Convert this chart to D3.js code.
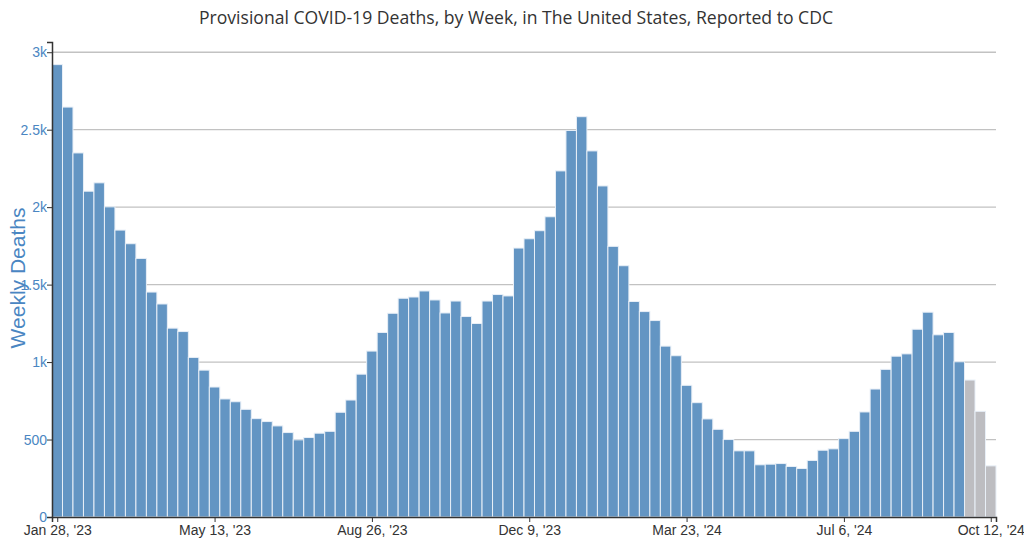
<!DOCTYPE html>
<html>
<head>
<meta charset="utf-8">
<script src="https://cdn.jsdelivr.net/npm/d3@7"></script>
<style>
  html, body { margin: 0; padding: 0; background: #fff; }
  svg { display: block; }
</style>
</head>
<body>
<svg id="chart" width="1024" height="541"></svg>
<script>
// ---- Data ----
const firstWeek = "2023-01-28";
const lastWeek = "2024-10-12";
const weeklyDeaths = [
  2920, 2646, 2350, 2103, 2157, 2002, 1852, 1764, 1669, 1452,
  1375, 1219, 1197, 1030, 948, 839, 762, 744, 695, 635,
  616, 588, 545, 498, 513, 541, 553, 676, 755, 922,
  1071, 1191, 1315, 1412, 1420, 1459, 1401, 1317, 1394, 1294,
  1249, 1394, 1436, 1427, 1736, 1796, 1848, 1938, 2234, 2495,
  2584, 2363, 2137, 1747, 1622, 1391, 1326, 1268, 1103, 1041,
  850, 738, 633, 566, 500, 427, 427, 337, 341, 345,
  326, 313, 365, 431, 440, 506, 553, 678, 826, 953,
  1038, 1053, 1212, 1322, 1176, 1191, 1002, 884, 682, 330
];
const provisionalCount = 3; // last weeks shown in grey (incomplete)
const yTickValues = [0, 500, 1000, 1500, 2000, 2500, 3000];
const yTickLabels = ["0", "500", "1k", "1.5k", "2k", "2.5k", "3k"];
const titleText = "Provisional COVID-19 Deaths, by Week, in The United States, Reported to CDC";
const yTitleText = "Weekly Deaths";

// ---- Build ----
const parse = d3.utcParse("%Y-%m-%d");
const startDate = parse(firstWeek), endDate = parse(lastWeek);
const weekDates = weeklyDeaths.map((_, i) => d3.utcDay.offset(startDate, i * 7));
const data = weekDates.map((d, i) => ({ date: d, value: weeklyDeaths[i], prov: i >= weeklyDeaths.length - provisionalCount }));

const svg = d3.select("#chart");
const mLeft = 52, mRight = 996, mTop = 42, mBottom = 517;

const x = d3.scaleUtc()
  .domain([d3.utcHour.offset(startDate, -84), d3.utcHour.offset(endDate, 84)])
  .range([mLeft, mRight]);
const y = d3.scaleLinear()
  .domain([0, d3.max(weeklyDeaths) * 1.05])
  .range([mBottom, mTop]);

// gridlines
svg.append("g").selectAll("line")
  .data(yTickValues.filter(v => v > 0))
  .join("line")
  .attr("x1", mLeft).attr("x2", mRight)
  .attr("y1", d => y(d)).attr("y2", d => y(d))
  .attr("stroke", "#c2c2c2").attr("stroke-width", 1.3);

// bars
const bw = x(d3.utcDay.offset(startDate, 7)) - x(startDate);
svg.append("g").selectAll("rect")
  .data(data)
  .join("rect")
  .attr("x", d => x(d.date) - bw / 2)
  .attr("width", bw)
  .attr("y", d => y(d.value))
  .attr("height", d => y(0) - y(d.value))
  .attr("fill", d => d.prov ? "#bdbdc1" : "#6395c3")
  .attr("stroke", "#e8eff7")
  .attr("stroke-width", 1);

// x axis
const xTicks = [];
for (let i = 0; i < weekDates.length; i += 15) xTicks.push(weekDates[i]);
if (+xTicks[xTicks.length - 1] !== +endDate) xTicks.push(endDate);
const fmt = d3.utcFormat("%b %-d, '%y");
const xAxis = svg.append("g")
  .attr("transform", `translate(0,${mBottom})`)
  .call(d3.axisBottom(x).tickValues(xTicks).tickFormat(fmt).tickSize(5).tickSizeOuter(5));
xAxis.select(".domain").attr("stroke", "#333").attr("stroke-width", 1.5);
xAxis.selectAll(".tick line").attr("stroke", "#333");
xAxis.selectAll(".tick text")
  .attr("fill", "#333").attr("font-family", "Liberation Sans, Arial, sans-serif")
  .attr("font-size", 14).attr("dy", "0.71em");

// y axis
const yAxis = svg.append("g")
  .attr("transform", `translate(${mLeft},0)`)
  .call(d3.axisLeft(y).tickValues(yTickValues)
    .tickFormat((d, i) => yTickLabels[i]).tickSize(5).tickSizeOuter(5));
yAxis.select(".domain").attr("stroke", "#333").attr("stroke-width", 1.5);
yAxis.selectAll(".tick line").attr("stroke", "#333");
yAxis.selectAll(".tick text")
  .attr("fill", "#4a86c2").attr("font-family", "Liberation Sans, Arial, sans-serif")
  .attr("font-size", 14).attr("x", -5);

// y title
svg.append("text")
  .attr("transform", `translate(25,278) rotate(-90)`)
  .attr("text-anchor", "middle")
  .attr("fill", "#4a86c2")
  .attr("font-family", "Liberation Sans, Arial, sans-serif")
  .attr("font-size", 21)
  .text(yTitleText);

// title
svg.append("text")
  .attr("x", 516).attr("y", 24)
  .attr("text-anchor", "middle")
  .attr("fill", "#333")
  .attr("font-family", "Open Sans, sans-serif")
  .attr("font-size", 17.6)
  .text(titleText);
</script>
</body>
</html>
